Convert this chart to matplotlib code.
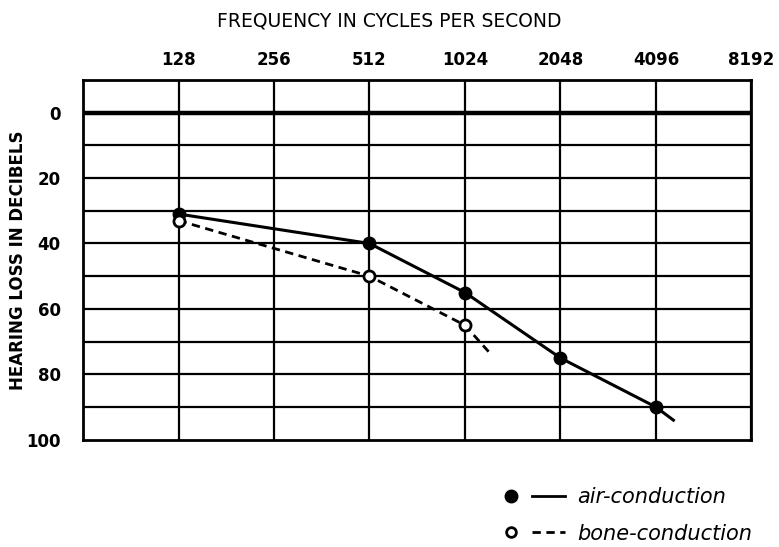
import matplotlib.pyplot as plt
from matplotlib.lines import Line2D
from matplotlib.legend_handler import HandlerTuple

freqs = [128, 256, 512, 1024, 2048, 4096, 8192]
db_ticks = [0, 20, 40, 60, 80, 100]

air_freq = [128, 512, 1024, 2048, 4096]
air_db = [31, 40, 55, 75, 90]
air_tail_freq = [4096, 4650]
air_tail_db = [90, 94]

bone_freq = [128, 512, 1024]
bone_db = [33, 50, 65]
bone_tail_freq = [1024, 1240]
bone_tail_db = [65, 74]

plt.rcParams['font.family'] = ['DejaVu Sans']

fig = plt.figure(figsize=(7.79, 5.47), dpi=100)
ax = fig.add_axes([0.1066, 0.196, 0.858, 0.658])

ax.set_xscale('log', base=2)
ax.set_xlim(64, 8192)
ax.set_ylim(100, -10)

# grid
for f in freqs:
    ax.axvline(f, color='black', lw=1.6, zorder=1)
for d in range(10, 100, 10):
    ax.axhline(d, color='black', lw=1.6, zorder=1)
ax.axhline(0, color='black', lw=3.2, zorder=1)

for s in ax.spines.values():
    s.set_linewidth(2)

ax.plot(air_freq + air_tail_freq[1:], air_db + air_tail_db[1:], color='black', lw=2.2, zorder=3)
ax.plot(air_freq, air_db, 'o', color='black', ms=9, zorder=4)
ax.plot(bone_freq + bone_tail_freq[1:], bone_db + bone_tail_db[1:], color='black', lw=2,
        ls=(0, (3, 2)), zorder=3)
ax.plot(bone_freq, bone_db, 'o', mfc='white', mec='black', mew=2, ms=8, zorder=4)

ax.xaxis.tick_top()
ax.set_xticks(freqs)
ax.set_xticklabels([str(f) for f in freqs], fontsize=12, fontweight='bold')
ax.minorticks_off()
ax.set_yticks(db_ticks)
ax.set_yticklabels([str(d) for d in db_ticks], fontsize=12, fontweight='bold')
ax.tick_params(length=0, pad=8)
ax.tick_params(axis='y', pad=16)

fig.text(0.5, 0.962, 'FREQUENCY IN CYCLES PER SECOND', ha='center', va='center', fontsize=13.5)
fig.text(0.023, 0.525, 'HEARING LOSS IN DECIBELS', ha='center', va='center', rotation=90,
         fontsize=12, fontweight='bold')

h_air = (Line2D([], [], marker='o', color='black', ls='none', ms=9),
         Line2D([], [], color='black', lw=2))
h_bone = (Line2D([], [], marker='o', mfc='white', mec='black', mew=2, ls='none', ms=7),
          Line2D([], [], color='black', lw=2, ls=(0, (3, 2))))
fig.legend([h_air, h_bone], ['air-conduction', 'bone-conduction'],
           handler_map={tuple: HandlerTuple(ndivide=None, pad=0.2)},
           loc='lower right', bbox_to_anchor=(0.99, -0.028), frameon=False,
           handlelength=3.4, prop={'style': 'italic', 'size': 15}, labelspacing=0.8,
           handletextpad=0.6)

fig.savefig('out.png', dpi=100)
